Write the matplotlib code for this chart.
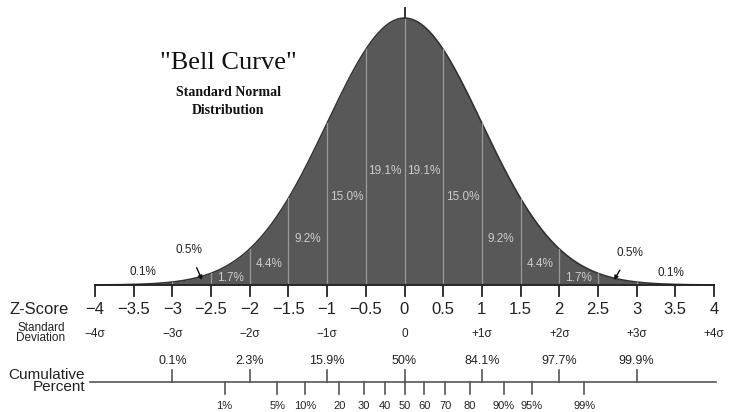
import numpy as np
import matplotlib.pyplot as plt

# z-score axis
z_ticks = [-4, -3.5, -3, -2.5, -2, -1.5, -1, -0.5, 0, 0.5, 1, 1.5, 2, 2.5, 3, 3.5, 4]
z_labels = ["\u22124", "\u22123.5", "\u22123", "\u22122.5", "\u22122", "\u22121.5", "\u22121", "\u22120.5",
            "0", "0.5", "1", "1.5", "2", "2.5", "3", "3.5", "4"]
sd_pos = [-4, -3, -2, -1, 0, 1, 2, 3, 4]
sd_labels = ["\u22124\u03c3", "\u22123\u03c3", "\u22122\u03c3", "\u22121\u03c3", "0",
             "+1\u03c3", "+2\u03c3", "+3\u03c3", "+4\u03c3"]

# cumulative percent
cum_pos = [-3, -2, -1, 0, 1, 2, 3]
cum_labels = ["0.1%", "2.3%", "15.9%", "50%", "84.1%", "97.7%", "99.9%"]
pct_z = [-2.326, -1.645, -1.282, -0.842, -0.524, -0.253, 0, 0.253, 0.524, 0.842, 1.282, 1.645, 2.326]
pct_labels = ["1%", "5%", "10%", "20", "30", "40", "50", "60", "70", "80", "90%", "95%", "99%"]

# band percentages inside the curve (centre of each half-sigma band)
band_z = [0.25, 0.75, 1.25, 1.75, 2.25]
band_labels = ["19.1%", "15.0%", "9.2%", "4.4%", "1.7%"]
band_ypx = [171, 197, 239, 264, 278]

W, H = 730, 412
X0, X1 = 95, 714          # pixel x of z=-4 and z=4
YA = 285                  # pixel y of baseline
PX = 669.0                # pixels per pdf unit
ux = (X1 - X0) / 8
FONT = "Liberation Sans"


def yp(py):
    return (YA - py) / PX


def xp(px):
    return -4 + (px - X0) / ux


fig = plt.figure(figsize=(W / 100, H / 100), dpi=100)
ax = fig.add_axes([0, 0, 1, 1])
ax.set_xlim(-4 - X0 / ux, 4 + (W - X1) / ux)
ax.set_ylim(yp(H), yp(0))
ax.axis("off")

z = np.linspace(-4, 4, 801)
pdf = np.exp(-z ** 2 / 2) / np.sqrt(2 * np.pi)
ax.fill_between(z, 0, pdf, color="#585858", lw=0)
ax.plot(z, pdf, color="#333333", lw=1.2)

for t in np.arange(-3, 3.01, 0.5):
    h = np.exp(-t ** 2 / 2) / np.sqrt(2 * np.pi)
    ax.plot([t, t], [0, h], color="#9a9a9a", lw=0.9)
ax.plot([0, 0], [0.3989, yp(8)], color="#222222", lw=1.3)

# baseline and ticks
ax.plot([-4, 4], [0, 0], color="#222222", lw=1.3)
for t, lab in zip(z_ticks, z_labels):
    ax.plot([t, t], [0, yp(YA + 11)], color="#222222", lw=1.3)
    ax.text(t, yp(309), lab, ha="center", va="center", fontsize=12, family=FONT, color="#222222")
ax.text(xp(39), yp(309), "Z-Score", ha="center", va="center", fontsize=12, family=FONT, color="#222222")

for t, lab in zip(sd_pos, sd_labels):
    ax.text(t, yp(334), lab, ha="center", va="center", fontsize=8.5, family=FONT, color="#222222")
ax.text(xp(41), yp(333), "Standard\nDeviation", ha="center", va="center", fontsize=8.5,
        family=FONT, linespacing=0.8, color="#222222")

# cumulative percent scale
ax.plot([xp(90), xp(716)], [yp(382), yp(382)], color="#555555", lw=1.2)
for t, lab in zip(cum_pos, cum_labels):
    ax.plot([t, t], [yp(370), yp(382)], color="#555555", lw=1.2)
    ax.text(t, yp(361), lab, ha="center", va="center", fontsize=9, family=FONT, color="#222222")
for t, lab in zip(pct_z, pct_labels):
    ax.plot([t, t], [yp(382), yp(394)], color="#555555", lw=1.2)
    ax.text(t, yp(406), lab, ha="center", va="center", fontsize=8, family=FONT, color="#222222")
ax.text(xp(85), yp(381), "Cumulative\nPercent", ha="right", va="center", fontsize=11,
        family=FONT, linespacing=0.85, color="#222222")

# band labels
for bz, lab, py in zip(band_z, band_labels, band_ypx):
    for s in (-1, 1):
        ax.text(s * bz, yp(py), lab, ha="center", va="center", fontsize=8.5,
                color="#cccccc", family=FONT)

# tails
ax.text(xp(143), yp(272), "0.1%", ha="center", va="center", fontsize=8.5, family=FONT, color="#222222")
ax.text(xp(671), yp(273), "0.1%", ha="center", va="center", fontsize=8.5, family=FONT, color="#222222")
ax.annotate("0.5%", xy=(xp(202), yp(280)), xytext=(xp(189), yp(250)), ha="center", va="center",
            fontsize=8.5, family=FONT, color="#222222",
            arrowprops=dict(arrowstyle="-|>", color="#111111", lw=1, mutation_scale=6, shrinkA=7, shrinkB=0))
ax.annotate("0.5%", xy=(xp(614), yp(280)), xytext=(xp(630), yp(253)), ha="center", va="center",
            fontsize=8.5, family=FONT, color="#222222",
            arrowprops=dict(arrowstyle="-|>", color="#111111", lw=1, mutation_scale=6, shrinkA=7, shrinkB=0))

# title
ax.text(xp(228), yp(63), "\"Bell Curve\"", ha="center", va="center", fontsize=19,
        family="Liberation Serif", color="#111111")
ax.text(xp(228), yp(92), "Standard Normal", ha="center", va="center", fontsize=10,
        family="Liberation Serif", color="#111111", fontweight="bold")
ax.text(xp(228), yp(110), "Distribution", ha="center", va="center", fontsize=10,
        family="Liberation Serif", color="#111111", fontweight="bold")

fig.savefig("out.png", dpi=100)
